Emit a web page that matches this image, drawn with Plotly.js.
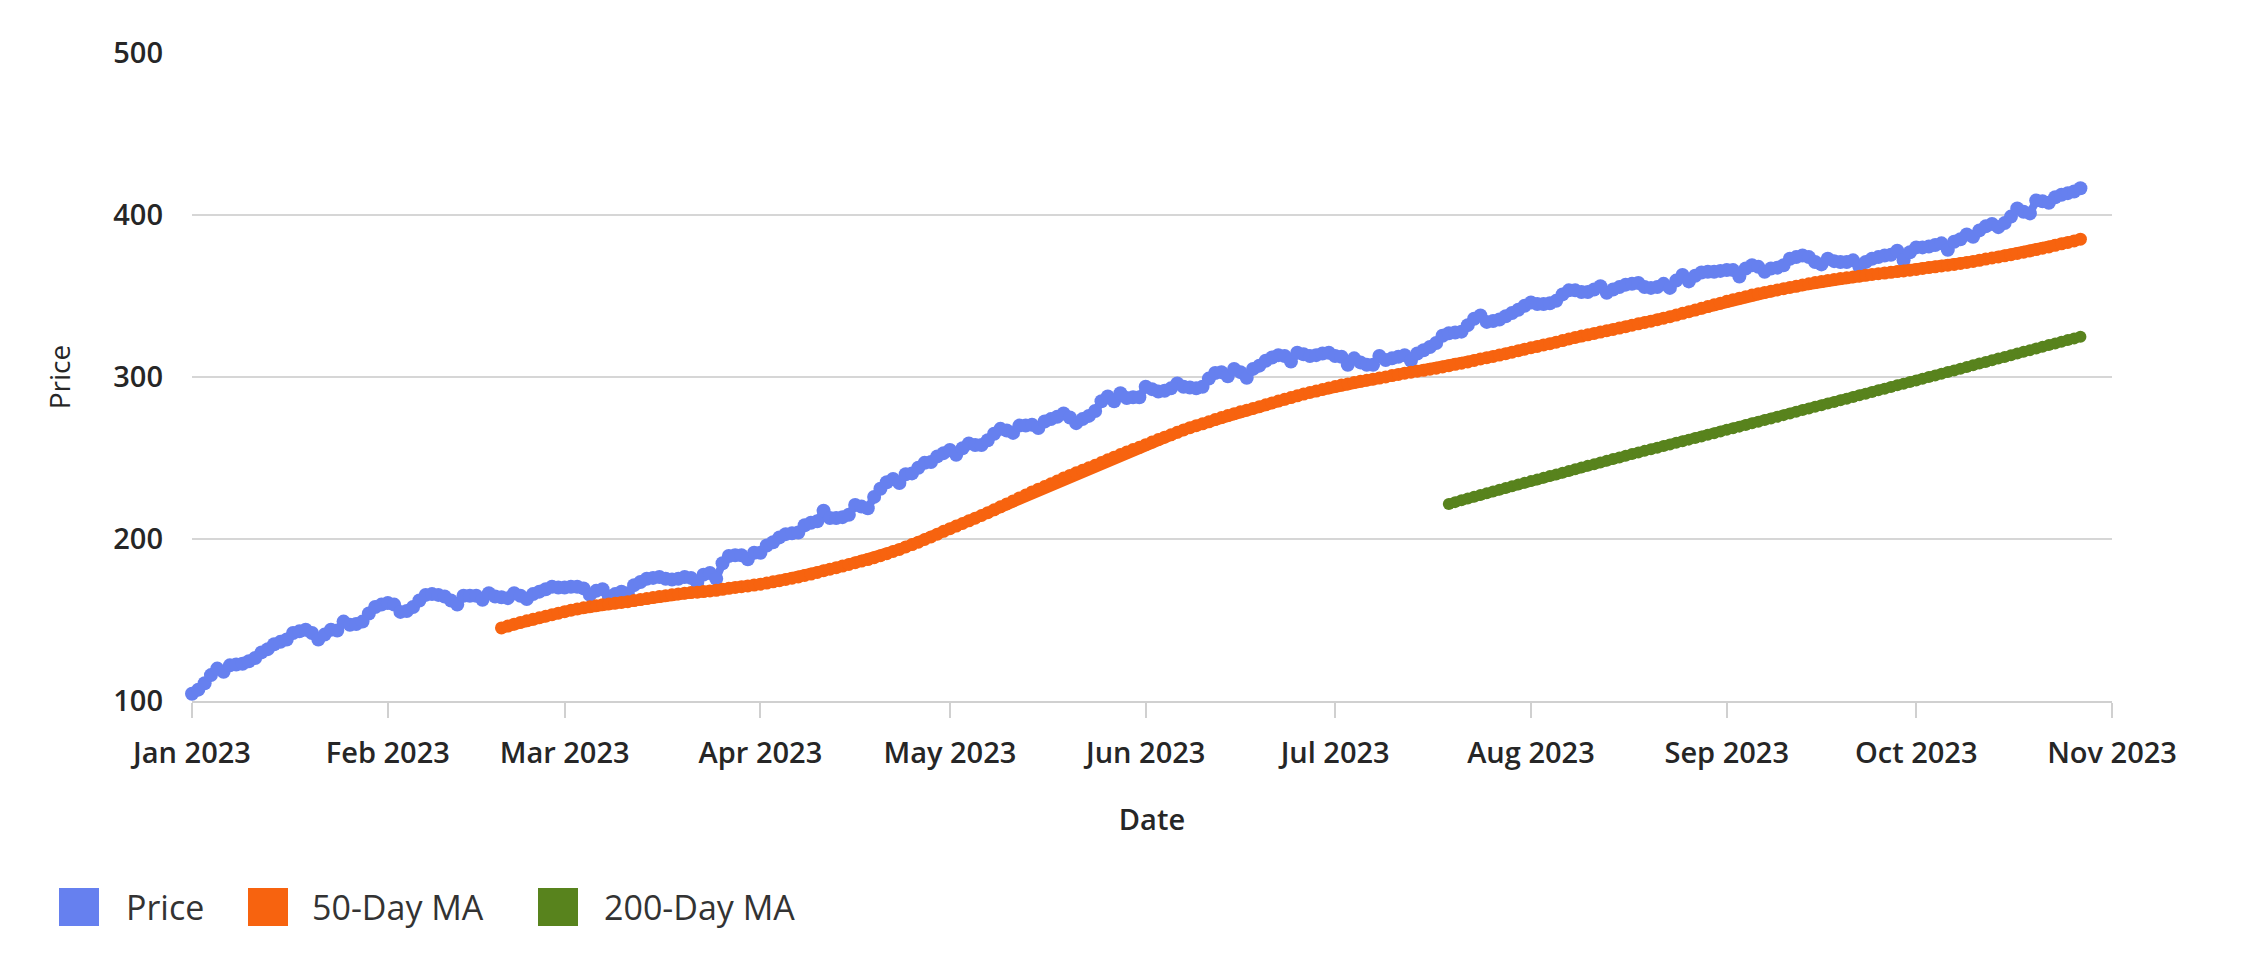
<!DOCTYPE html>
<html>
<head>
<meta charset="utf-8">
<script src="https://cdn.plot.ly/plotly-3.0.1.min.js"></script>
<style>
  html, body { margin: 0; padding: 0; background: #ffffff; }
  #chart { width: 2244px; height: 954px; }
</style>
</head>
<body>
<div id="chart"></div>
<script>
// ---- Data ----
const startDate = '2023-01-01';           // first daily observation
const seriesNames = ['Price', '50-Day MA', '200-Day MA'];
const maWindows = [50, 200];

// Daily closing price, Jan 1 2023 .. Oct 27 2023
const price = [
  104.5, 107, 111, 116, 120, 118, 122, 122.5, 123, 124.5,
  126.5, 130, 132, 135, 136.5, 138, 142, 143, 144, 142,
  138, 141, 144, 143.5, 149, 147, 147.5, 149, 154, 158,
  159.5, 160.5, 159.5, 155, 155.5, 158, 162, 165.5, 166, 165.5,
  164.5, 162, 159.5, 165, 165, 165, 162.5, 166.5, 164.5, 164,
  163.5, 166.5, 165, 163, 166, 167.5, 169, 170.5, 170, 170,
  170.5, 170.5, 169.5, 165.5, 168, 169, 164.5, 166, 167.5, 166.5,
  171.5, 173.5, 175.5, 176, 176.5, 175.5, 175, 175.5, 176.5, 176,
  173, 178, 179, 175.5, 185, 189.5, 190, 190, 187.5, 191.5,
  191.5, 196, 198, 201, 203, 203.5, 204, 208.5, 210, 211,
  217.5, 213, 213, 213.5, 215, 221, 220, 219, 226, 231,
  235, 237, 234.5, 240, 240.5, 244, 247, 247.5, 251, 253,
  255, 252, 256, 259, 258, 258, 261, 265, 268, 267,
  265.5, 270, 270, 270.5, 268.5, 272.5, 274, 275.5, 277.5, 275,
  271.5, 274, 276, 279, 285, 288, 285, 290, 287, 287.5,
  287.5, 294, 292.5, 291, 291.5, 293, 296, 294, 293.5, 293,
  294, 299, 302.5, 303, 300.5, 305, 303, 299.5, 305, 307,
  310, 312, 313.5, 313, 309.5, 315, 314, 313, 313.5, 314.5,
  315, 313, 312.5, 307.5, 311.5, 309, 307.5, 307.5, 313, 310.5,
  311.5, 312.5, 313.5, 310, 314.5, 316.5, 318.5, 321, 325.5, 327,
  327.5, 328, 332, 336, 338, 334, 334.5, 335.5, 337.5, 339.5,
  341.5, 344, 346, 345, 345, 345.5, 347, 351, 353.5, 353.5,
  352.5, 352.5, 354, 356, 352, 354, 355.5, 357, 357.5, 358,
  355.5, 355, 355.5, 357.5, 355, 359.5, 363, 359, 362.5, 364.5,
  365, 365, 365.5, 366, 366, 362, 367, 369, 368, 365,
  367, 367.5, 369, 373, 374, 375, 374, 371, 369.5, 373,
  371.5, 371, 371, 372, 368, 371, 373, 374, 375, 375.5,
  378, 372, 377, 380, 380, 380.5, 381.5, 382.5, 378.5, 383.5,
  385, 388, 386.5, 390.5, 393, 394.5, 392.5, 395, 399, 404,
  402, 401, 409, 408.5, 407.5, 411, 412.5, 413.5, 414.5, 416.5
];

const yTickVals = [100, 200, 300, 400, 500];
const xTitle = 'Date';
const yTitle = 'Price';

// ---- Moving averages derived from the price series ----
function movingAverage(values, n) {
  const out = [];
  let sum = 0;
  for (let i = 0; i < values.length; i++) {
    sum += values[i];
    if (i >= n) sum -= values[i - n];
    out.push(i >= n - 1 ? sum / n : null);
  }
  return out;
}
const ma50 = movingAverage(price, maWindows[0]);
const ma200 = movingAverage(price, maWindows[1]);

// ---- Styling ----
const colors = ['#6680ef', '#f7630f', '#58831d'];
const DAY = 86400000;

const traces = [
  { y: price, name: seriesNames[0], color: colors[0], size: 14, lw: 8 },
  { y: ma50, name: seriesNames[1], color: colors[1], size: 13, lw: 11 },
  { y: ma200, name: seriesNames[2], color: colors[2], size: 12, lw: 10 }
].map(s => ({
  type: 'scatter',
  mode: 'lines+markers',
  x0: startDate,
  dx: DAY,
  y: s.y,
  name: s.name,
  showlegend: false,
  cliponaxis: false,
  connectgaps: false,
  line: { color: s.color, width: s.lw },
  marker: { color: s.color, size: s.size }
}));

// Plot area in pixels
const W = 2244, H = 954;
const L = 192, R = 2112, T = 53, B = 701;
const px = X => (X - L) / (R - L);
const py = Y => (B - Y) / (B - T);

// Custom legend (large square swatches)
const legendItems = [
  { sq: [59, 99], tx: 124 },
  { sq: [248, 288], tx: 310 },
  { sq: [538, 578], tx: 602 }
];
const legY0 = 888, legY1 = 926, legYc = 907;
const shapes = legendItems.map((it, i) => ({
  type: 'rect', xref: 'paper', yref: 'paper',
  x0: px(it.sq[0]), x1: px(it.sq[1]), y0: py(legY1), y1: py(legY0),
  fillcolor: colors[i], line: { width: 0 }
}));
const annotations = legendItems.map((it, i) => ({
  xref: 'paper', yref: 'paper',
  x: px(it.tx), y: py(legYc), xanchor: 'left', yanchor: 'middle',
  text: seriesNames[i], showarrow: false,
  font: { family: 'Open Sans, sans-serif', size: 34, color: '#333333' }
}));

const tickFont = { family: 'Open Sans, sans-serif', size: 29, color: '#262626', weight: 600 };

const layout = {
  width: W, height: H,
  margin: { l: L, r: W - R, t: T, b: H - B, pad: 0 },
  paper_bgcolor: '#ffffff',
  plot_bgcolor: '#ffffff',
  font: { family: 'Open Sans, sans-serif', color: '#2b2b2b' },
  showlegend: false,
  xaxis: {
    type: 'date',
    range: ['2023-01-01', '2023-11-01'],
    tick0: '2023-01-01',
    dtick: 'M1',
    tickformat: '%b %Y',
    ticks: 'outside',
    ticklen: 15,
    tickwidth: 2,
    tickcolor: '#d0d0d0',
    showline: true,
    linecolor: '#d0d0d0',
    linewidth: 2,
    showgrid: false,
    zeroline: false,
    tickfont: tickFont,
    ticklabelstandoff: 10,
    title: { text: xTitle, font: { size: 29, color: '#262626', weight: 600 }, standoff: 40 }
  },
  yaxis: {
    range: [100, 500],
    tickvals: yTickVals,
    ticks: '',
    showline: false,
    showgrid: true,
    gridcolor: '#d6d6d6',
    gridwidth: 2,
    zeroline: false,
    tickfont: tickFont,
    ticklabelstandoff: 28,
    title: { text: yTitle, font: { size: 28, color: '#262626', weight: 500 }, standoff: 34 }
  },
  shapes: shapes,
  annotations: annotations
};

Plotly.newPlot('chart', traces, layout, { displayModeBar: false, staticPlot: true });
</script>
</body>
</html>
